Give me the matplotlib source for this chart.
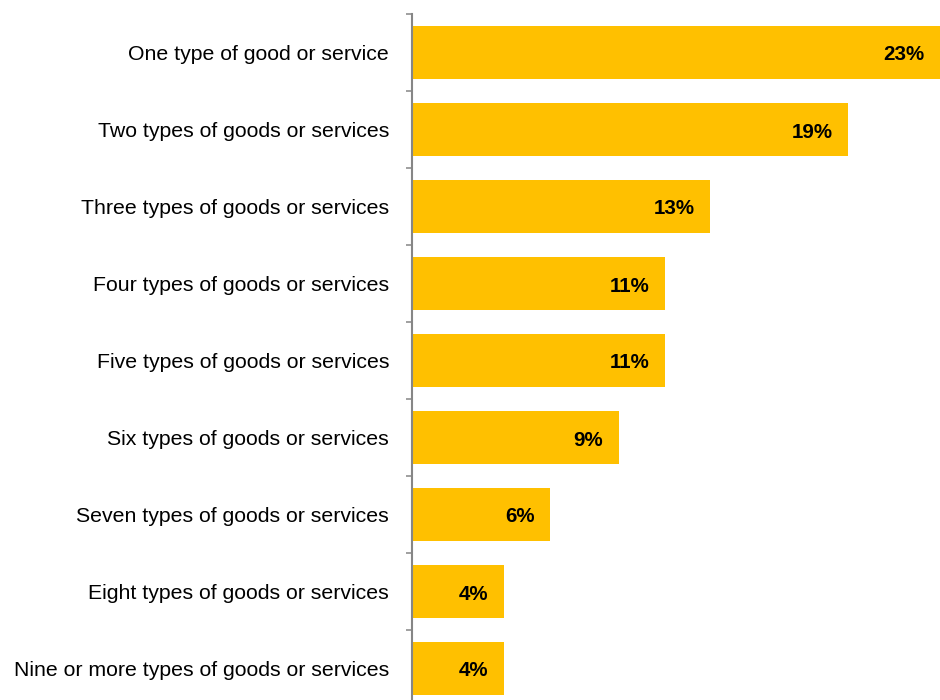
import numpy as np
import matplotlib.pyplot as plt

plt.rcParams["font.family"] = ["Liberation Sans", "DejaVu Sans"]

categories = [
    "One type of good or service",
    "Two types of goods or services",
    "Three types of goods or services",
    "Four types of goods or services",
    "Five types of goods or services",
    "Six types of goods or services",
    "Seven types of goods or services",
    "Eight types of goods or services",
    "Nine or more types of goods or services",
]
shares = [23, 19, 13, 11, 11, 9, 6, 4, 4]

BAR_COLOR = "#FFC000"
AXIS_COLOR = "#868686"

fig = plt.figure(figsize=(9.4, 7.0), dpi=100)
ax = fig.add_axes([412 / 940, -7 / 700, 528 / 940, 693 / 700])

y = np.arange(len(categories))
ax.barh(y, shares, height=0.69, color=BAR_COLOR, left=0)

# percentage labels sit inside the bar, near its end
for yi, v in zip(y, shares):
    ax.annotate(f"{v}%", (v, yi), xytext=(-11, -1.8), textcoords="offset points",
                ha="right", va="center", fontsize=14.8, fontweight="bold",
                color="black")

ax.set_xlim(0, 23)
ax.set_ylim(len(categories) - 0.5, -0.5)

ax.set_yticks(y)
ax.set_yticklabels(categories, fontsize=15.3)
ax.tick_params(axis="y", which="major", length=0, pad=16.5)
ax.set_yticks(np.arange(len(categories) + 1) - 0.5, minor=True)
ax.tick_params(axis="y", which="minor", length=4.3, width=1.1,
               color=AXIS_COLOR, direction="out")

ax.set_xticks([])
for side in ["top", "right", "bottom"]:
    ax.spines[side].set_visible(False)
ax.spines["left"].set_color(AXIS_COLOR)
ax.spines["left"].set_linewidth(1.5)

fig.savefig("out.png", dpi=100)
